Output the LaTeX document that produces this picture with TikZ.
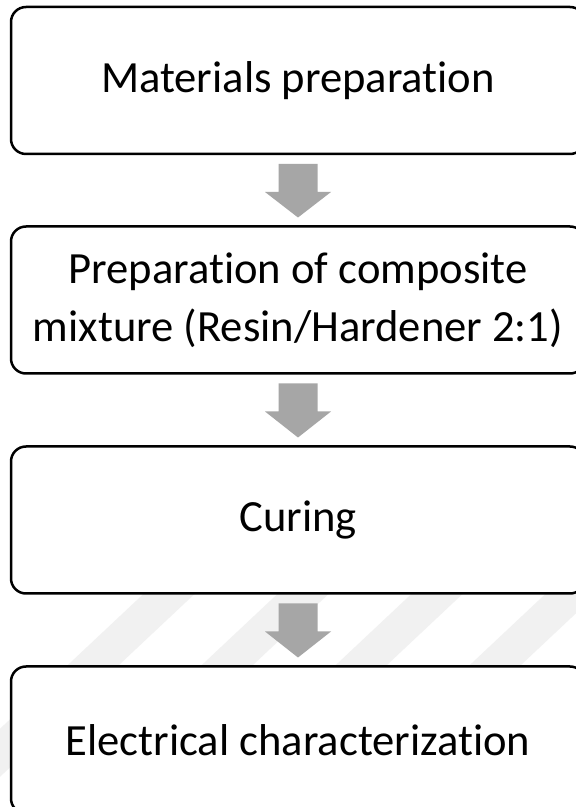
\documentclass[tikz,border=0pt]{standalone}
\usepackage{fontspec}
\setmainfont{Carlito}[Ligatures=NoCommon]
\usetikzlibrary{calc}
\definecolor{arrowgray}{HTML}{A6A6A6}
\definecolor{stripegray}{HTML}{F1F1F1}
\tikzset{
  stepbox/.style={draw=black, line width=2.5pt, rounded corners=15pt, fill=white,
    minimum width=574pt, minimum height=147pt, outer sep=0pt, inner sep=0pt,
    align=center, font=\fontsize{44.6}{58}\selectfont},
  stripe/.style={draw=stripegray, line width=35pt},
}
\newcommand{\blockarrow}[2]{%
  \fill[arrowgray] ([xshift=-19.5pt,yshift=-10pt]#1.south) -- ([xshift=-19.5pt,yshift=-38pt]#1.south)
    -- ([xshift=-33pt,yshift=-38pt]#1.south) -- ([yshift=9pt]#2.north)
    -- ([xshift=33pt,yshift=-38pt]#1.south) -- ([xshift=19.5pt,yshift=-38pt]#1.south)
    -- ([xshift=19.5pt,yshift=-10pt]#1.south) -- cycle;}
\begin{document}
\begin{tikzpicture}[x=1pt,y=1pt]
\useasboundingbox (0,0) rectangle (576,807);
\fill[white] (0,0) rectangle (576,807);
% faint diagonal watermark stripes
\begin{scope}
  \clip (0,0) rectangle (576,213);
  \foreach \c in {99,233,367,501,635} {
    \draw[stripe] ({\c-178},-20) -- ({\c+120},260);
  }
\end{scope}
\node[stepbox] (b1) at (298,726.5) {Materials preparation};
\node[stepbox] (b2) at (298,507) {Preparation of composite\\mixture (Resin/Hardener 2:1)};
\node[stepbox] (b3) at (298,287) {Curing};
\node[stepbox] (b4) at (298,67) {Electrical characterization};
\blockarrow{b1}{b2}
\blockarrow{b2}{b3}
\blockarrow{b3}{b4}
\end{tikzpicture}
\end{document}
